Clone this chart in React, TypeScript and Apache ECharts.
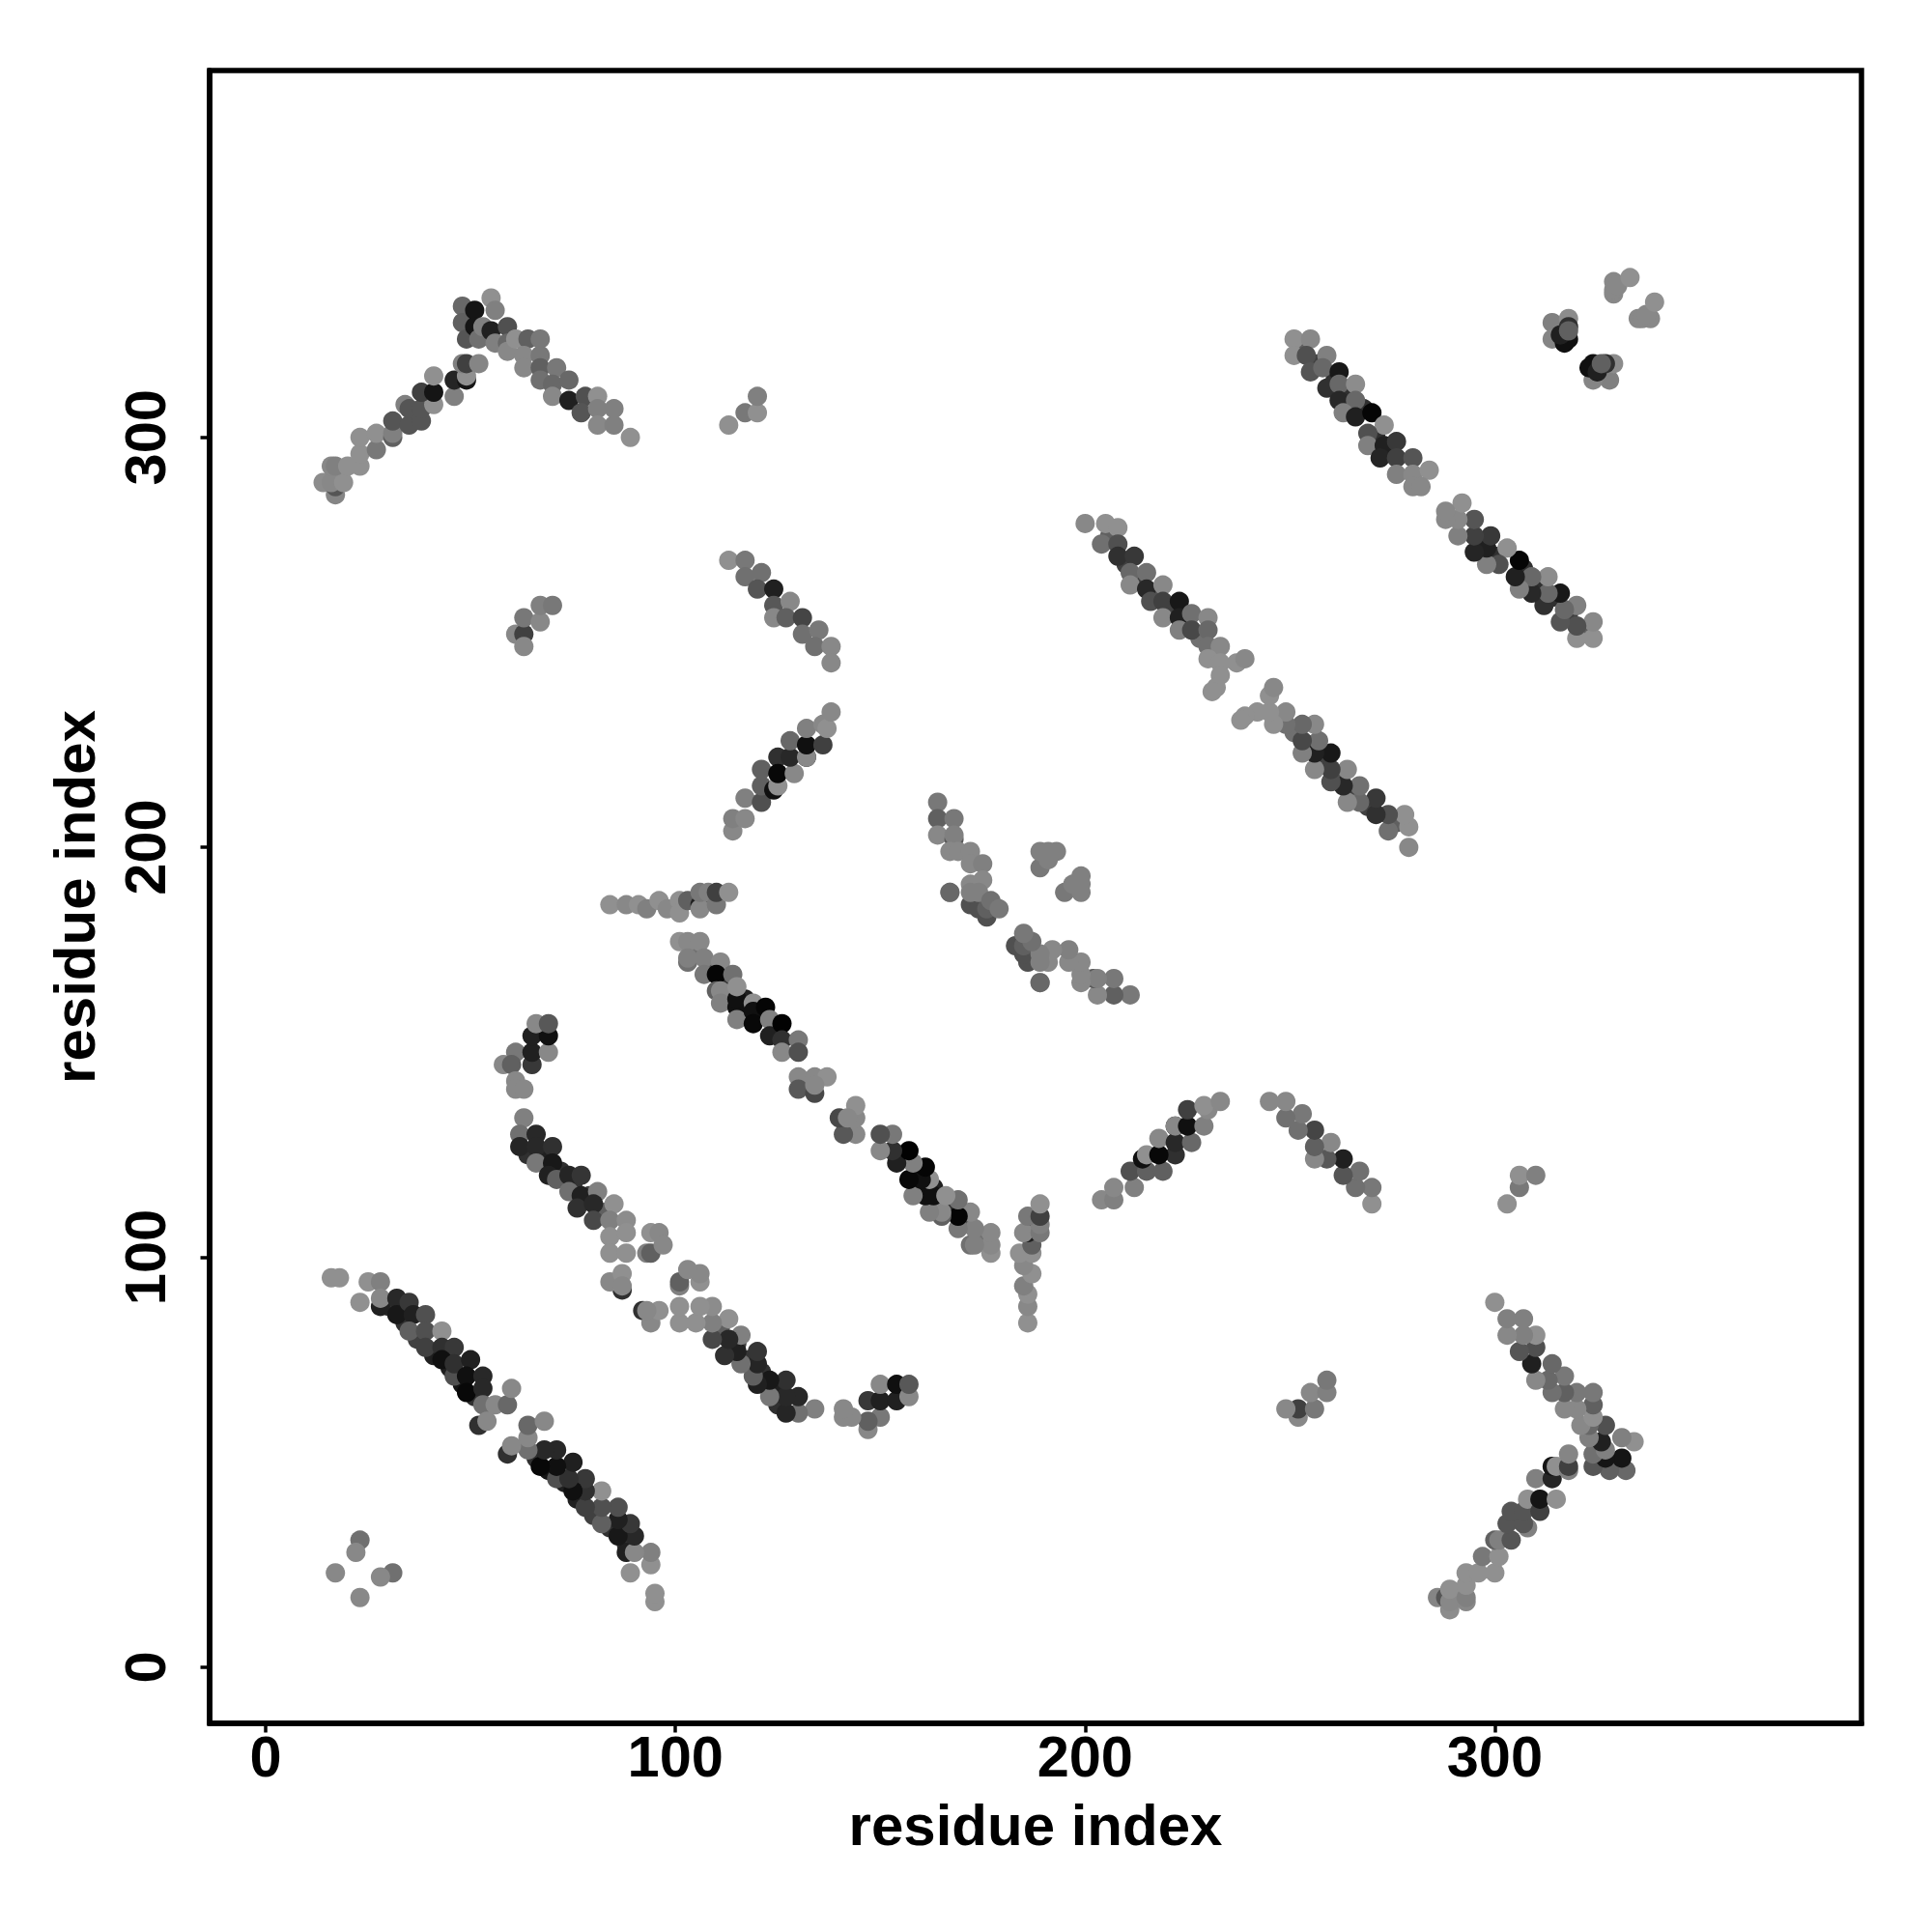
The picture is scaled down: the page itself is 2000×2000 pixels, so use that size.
import React, { useEffect, useRef } from "react";
import * as echarts from "echarts";

// Each row: [residue x, residue y, grey level]; only x < y is listed, the map is symmetric.
const tickValues = [0, 100, 200, 300];
const axisTitle = "residue index";

// Marks mostly hidden under the others inside the dense bands.
const hiddenA = [[30,88,0x30],[34,84,0x30],[37,80,0x40],[41,76,0x20],[45,73,0x20],[48,69,0x15],[51,66,0x30]];
const hiddenB = [[64,125,0x30],[68,125,0x20],[72,121,0x30],[75,118,0x35],[79,115,0x40],[83,111,0x60]];
const hiddenC = [[105,175,0x70],[109,171,0x50],[113,167,0x30],[117,163,0x20],[121,159,0x10],[125,155,0x20]];
const hiddenE = [[253,322,0x60],[257,318,0x40],[261,314,0x30],[264,311,0x30],[268,307,0x30],[271,300,0x30],[274,297,0x30]];
const hiddenF = [[206,276,0x60],[210,269,0x40],[213,265,0x40],[217,262,0x50],[221,258,0x40],[225,255,0x50],[228,251,0x70]];

const bandA = [
  [16,95,0x90],[18,95,0x90],[25,94,0x90],[28,94,0x80],[23,89,0x90],[28,88,0x20],[28,90,0x88],[32,90,0x28],[32,86,0x18],[35,89,0x38],
  [36,86,0x20],[35,82,0x60],[39,86,0x50],[39,82,0x50],[39,78,0x40],[43,82,0x90],[43,78,0x30],[46,78,0x38],[43,75,0x10],[46,71,0x50],
  [46,74,0x30],[50,75,0x20],[49,71,0x10],[49,67,0x08],[53,71,0x28],[53,68,0x28],[53,64,0x70],[56,64,0x88],[59,64,0x68],[60,68,0x88],
  [52,59,0x30],[54,60,0x88],
];
const smallM = [[23,31,0x70],[22,28,0x88],[17,23,0x88]];
const hookTop = [
  [58,147,0x88],[61,150,0x78],[60,147,0x60],[61,143,0x88],[61,141,0x88],[63,141,0x88],[65,147,0x38],[65,150,0x20],[65,154,0x20],
  [69,150,0x88],[69,154,0x10],[66,157,0x88],[69,157,0x58],
];
const bandB = [
  [63,134,0x80],[62,130,0x70],[62,127,0x25],[66,130,0x28],[66,127,0x28],[66,123,0x78],[70,127,0x30],[70,123,0x18],[69,120,0x20],[71,119,0x60],
  [74,120,0x25],[77,120,0x35],[74,116,0x70],[77,115,0x20],[81,116,0x80],[76,112,0x30],[80,113,0x28],[85,113,0x90],[80,109,0x48],[84,109,0x80],
  [88,109,0x8c],[84,105,0x90],[88,106,0x90],[84,101,0x90],[88,101,0x90],[87,92,0x30],[84,94,0x88],[87,96,0x90],[87,93,0x88],
  [93,101,0x80],[94,101,0x60],[94,106,0x90],[96,106,0x88],[97,103,0x88],
];
const bandC = [
  [101,177,0x90],[103,177,0x88],[106,177,0x88],[103,172,0x70],[103,173,0x80],[107,173,0x80],[107,169,0x78],[111,172,0x88],[110,169,0x05],[114,169,0x70],
  [110,165,0x60],[111,165,0x88],[111,162,0x80],[115,161,0x10],[115,163,0x10],[115,166,0x90],[115,158,0x80],[119,162,0x90],[119,160,0x10],[119,157,0x08],
  [122,161,0x05],[123,158,0x80],[123,154,0x20],[126,157,0x02],[126,153,0x30],[130,153,0x78],[126,150,0x88],[130,150,0x50],
  [130,144,0x88],[134,144,0x88],[137,144,0x90],[130,141,0x58],[134,140,0x48],[134,142,0x88],
];
const bandD = [
  [164,211,0x78],[164,207,0x60],[168,207,0x78],[164,203,0x88],[168,202,0x58],[168,203,0x80],[167,199,0x88],[169,199,0x88],[172,199,0x88],[172,196,0x88],
  [175,196,0x80],[167,189,0x90],[167,189,0x68],[172,186,0x50],[174,185,0x50],[176,183,0x50],[176,185,0x60],[172,191,0x88],[175,192,0x88],[172,189,0x80],
  [174,189,0x80],[177,187,0x70],[179,185,0x78],
];
const spotD = [[189,195,0x78],[189,199,0x80],[191,199,0x80],[193,199,0x80],[191,197,0x80]];
const bandF = [
  [200,279,0x88],[205,279,0x90],[208,278,0x90],[204,274,0x70],[208,274,0x50],[208,271,0x30],[212,271,0x38],[211,267,0x68],[215,267,0x70],[211,264,0x88],
  [215,263,0x28],[219,264,0x88],[216,260,0x50],[219,260,0x40],[223,260,0x18],[219,256,0x88],[223,256,0x20],[226,257,0x70],[230,256,0x88],[223,253,0x80],
  [226,253,0x48],[230,253,0x68],[230,249,0x70],[233,249,0x88],[230,246,0x90],[233,245,0x90],[237,245,0x90],[239,246,0x88],[233,242,0x90],[232,239,0x90],[231,238,0x90],
];
const bandE = [
  [251,324,0x90],[255,324,0x88],[251,320,0x90],[254,320,0x50],[259,320,0x80],[255,316,0x55],[258,317,0x68],[262,316,0x18],[259,312,0x30],[262,313,0x68],
  [266,313,0x8c],[262,309,0x28],[266,309,0x68],[263,306,0x80],[266,305,0x20],[270,306,0x05],[273,303,0x90],[269,301,0x50],[269,298,0x80],[273,298,0x20],
  [276,299,0x38],[272,295,0x25],[276,295,0x40],[280,295,0x55],[276,291,0x80],[280,291,0x88],[284,292,0x90],[280,288,0x88],[282,288,0x88],
];
const riseG = [
  [14,289,0x8c],[17,286,0x85],[17,288,0x55],[16,289,0x88],[19,289,0x90],[16,293,0x88],[17,293,0x80],[20,293,0x90],[23,293,0x90],[23,296,0x90],
  [23,300,0x90],[27,297,0x78],[27,301,0x90],[31,300,0x60],[31,301,0x80],[31,304,0x55],[35,303,0x55],[34,308,0x80],[35,307,0x55],[38,304,0x55],
  [38,307,0x55],[41,308,0x90],[38,311,0x40],[41,311,0x15],[41,315,0x90],[46,310,0x80],[46,314,0x25],[49,314,0x15],[49,315,0x90],[48,318,0x80],[49,318,0x40],[52,318,0x85],
];
const fallG = [
  [48,332,0x68],[48,328,0x60],[49,324,0x55],[51,331,0x15],[51,327,0x15],[52,324,0x70],[55,334,0x90],[56,331,0x80],[53,327,0x80],[55,326,0x20],
  [56,323,0x80],[59,327,0x50],[59,323,0x68],[59,321,0x88],[61,324,0x90],[64,324,0x60],[67,324,0x78],[63,320,0x88],[67,320,0x78],[63,317,0x88],
  [67,317,0x60],[71,317,0x78],[67,314,0x70],[70,313,0x68],[74,314,0x68],[70,310,0x88],[74,309,0x20],[78,310,0x50],[81,310,0x90],[77,306,0x55],
  [81,307,0x80],[85,307,0x80],[81,303,0x88],[85,303,0x80],[89,300,0x90],
];
const spotH = [[113,303,0x90],[117,306,0x78],[120,306,0x90],[120,310,0x80]];
const spotI = [[61,252,0x88],[63,252,0x40],[63,249,0x88],[63,256,0x78],[67,255,0x88],[67,259,0x80],[70,259,0x78]];
const fallJ = [
  [113,270,0x90],[117,270,0x78],[117,266,0x70],[121,267,0x70],[120,263,0x55],[124,263,0x20],[124,259,0x58],[124,256,0x88],[128,260,0x88],[127,256,0x60],
  [131,256,0x45],[131,252,0x70],[135,253,0x78],[134,249,0x70],[138,249,0x88],[138,245,0x88],
];
const riseK = [
  [114,204,0x88],[114,207,0x80],[117,207,0x88],[117,212,0x80],[121,211,0x50],[121,215,0x60],[121,219,0x60],[124,214,0x10],[125,215,0x90],[125,222,0x30],
  [125,218,0x08],[129,218,0x88],[128,222,0x28],[128,226,0x68],[132,222,0x10],[132,222,0x88],[132,225,0x10],[132,229,0x80],[136,225,0x40],[136,230,0x88],[137,229,0x90],[138,233,0x88],
];
const lineL = [
  [84,186,0x90],[88,186,0x88],[91,186,0x90],[93,185,0x80],[96,187,0x90],[98,185,0x88],[101,187,0x90],[101,184,0x90],[103,187,0x60],[106,186,0x20],
  [106,185,0x88],[106,189,0x78],[108,189,0x80],[110,186,0x78],[110,189,0x40],[113,189,0x90],
];
const cornerN = [
  [314,328,0x80],[318,329,0x8c],[314,324,0x85],[318,324,0x10],[317,323,0x10],[316,325,0x20],[318,327,0x30],[318,326,0x60],
  [329,335,0x88],[329,336,0x88],[329,338,0x88],[330,337,0x88],[333,339,0x90],
];

const halves = [hiddenA, hiddenB, hiddenC, hiddenE, hiddenF, bandA, smallM, hookTop, bandB, bandC, bandD, spotD, bandF, bandE, riseG, fallG, spotH, spotI, fallJ, riseK, lineL, cornerN];

const FONT = "'Liberation Sans', Arial, Helvetica, sans-serif";
const axisRange = { min: -13.7, max: 389.5 };

function App() {
  const ref = useRef<HTMLDivElement>(null);
  useEffect(() => {
    document.body.style.margin = "0";
    const chart = echarts.init(ref.current!, undefined, { renderer: "svg" });
    const points: number[][] = [];
    halves.forEach((h) => {
      h.forEach((p) => points.push(p));
      h.forEach((p) => points.push([p[1], p[0], p[2]]));
    });
    const commonAxis = {
      type: "value" as const,
      ...axisRange,
      name: axisTitle,
      nameLocation: "middle" as const,
      nameTextStyle: { fontFamily: FONT, fontWeight: "bold" as const, fontSize: 60, color: "#000" },
      axisLine: { show: true, onZero: false, lineStyle: { color: "#000", width: 5.5 } },
      splitLine: { show: false },
      axisTick: { show: true, length: 9.5, lineStyle: { color: "#000", width: 3.5 }, customValues: tickValues },
    };
    chart.setOption({
      animation: false,
      backgroundColor: "#fff",
      grid: { show: true, left: 217, top: 73, width: 1710, height: 1711, borderColor: "#000", borderWidth: 5.5, backgroundColor: "transparent" },
      xAxis: {
        ...commonAxis,
        nameGap: 75,
        axisLabel: { show: true, customValues: tickValues, margin: 4, fontFamily: FONT, fontWeight: "bold", fontSize: 59.5, color: "#000" },
      },
      yAxis: {
        ...commonAxis,
        nameGap: 110,
        axisLabel: { show: true, customValues: tickValues, rotate: 90, margin: 37, fontFamily: FONT, fontWeight: "bold", fontSize: 59.5, color: "#000" },
      },
      series: [
        {
          type: "scatter",
          symbol: "circle",
          symbolSize: 20,
          data: points,
          itemStyle: {
            opacity: 1,
            color: (p: any) => {
              const g = p.value[2];
              return `rgb(${g},${g},${g})`;
            },
          },
        },
      ],
    });
    return () => chart.dispose();
  }, []);
  return <div ref={ref} style={{ position: "absolute", left: 0, top: 0, width: 2000, height: 2000 }} />;
}

export default App;
